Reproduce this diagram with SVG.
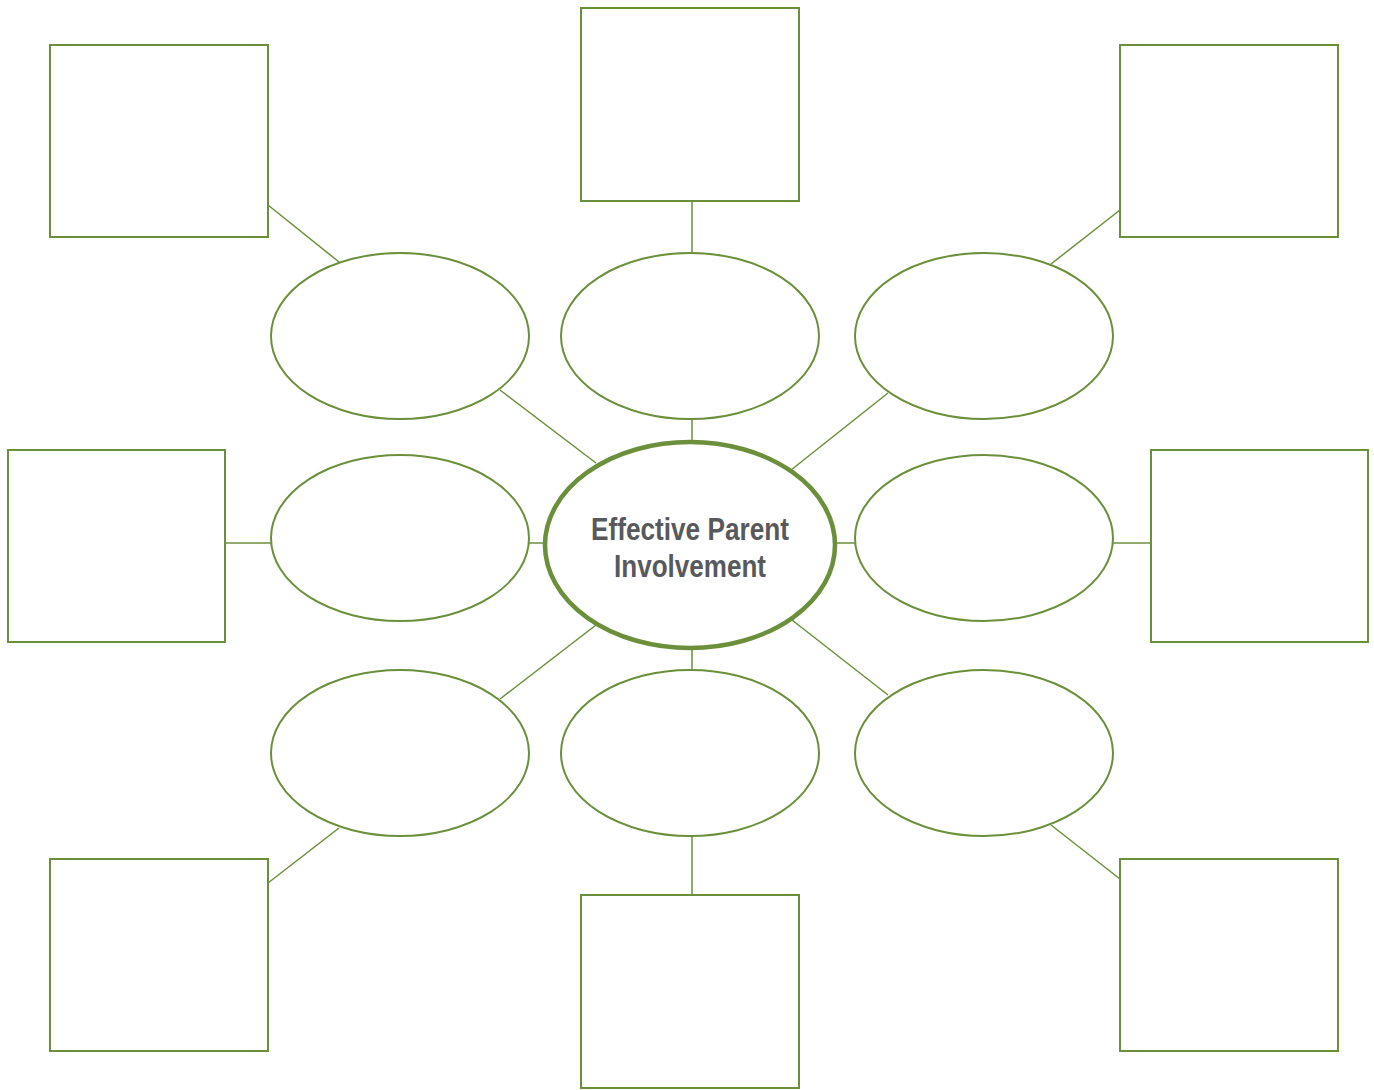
<svg xmlns="http://www.w3.org/2000/svg" width="1374" height="1090" viewBox="0 0 1374 1090">
<style>
.box{fill:#fff;stroke:#6b8f3b;stroke-width:2}
.oval{fill:#fff;stroke:#6b8f3b;stroke-width:2}
.hub{fill:#fff;stroke:#6b8f3b;stroke-width:4.5}
.ln{stroke:#6b8f3b;stroke-width:1.5;fill:none}
.t{font-family:"Liberation Sans",Arial,sans-serif;font-size:31px;font-weight:bold;fill:#58595b;text-anchor:middle}
</style>
<rect width="1374" height="1090" fill="#fff"/>
<g id="connectors">
<line class="ln" x1="268" y1="205" x2="339" y2="262"/>
<line class="ln" x1="692" y1="201" x2="692" y2="253"/>
<line class="ln" x1="1120" y1="210" x2="1051" y2="264"/>
<line class="ln" x1="225" y1="543" x2="271" y2="543"/>
<line class="ln" x1="1113" y1="543" x2="1151" y2="543"/>
<line class="ln" x1="339" y1="828" x2="268" y2="883"/>
<line class="ln" x1="692" y1="836" x2="692" y2="895"/>
<line class="ln" x1="1051" y1="825" x2="1120" y2="879"/>
<line class="ln" x1="500" y1="390" x2="596" y2="463"/>
<line class="ln" x1="692" y1="419" x2="692" y2="442"/>
<line class="ln" x1="888" y1="393" x2="791" y2="470"/>
<line class="ln" x1="529" y1="543" x2="545" y2="543"/>
<line class="ln" x1="835" y1="543" x2="855" y2="543"/>
<line class="ln" x1="596" y1="625" x2="500" y2="699"/>
<line class="ln" x1="692" y1="648" x2="692" y2="670"/>
<line class="ln" x1="792" y1="620" x2="888" y2="695"/>
</g>
<g id="box-tl"><rect class="box" x="50" y="45" width="218" height="192"/></g>
<g id="box-tc"><rect class="box" x="581" y="8" width="218" height="193"/></g>
<g id="box-tr"><rect class="box" x="1120" y="45" width="218" height="192"/></g>
<g id="box-ml"><rect class="box" x="8" y="450" width="217" height="192"/></g>
<g id="box-mr"><rect class="box" x="1151" y="450" width="217" height="192"/></g>
<g id="box-bl"><rect class="box" x="50" y="859" width="218" height="192"/></g>
<g id="box-bc"><rect class="box" x="581" y="895" width="218" height="193"/></g>
<g id="box-br"><rect class="box" x="1120" y="859" width="218" height="192"/></g>
<g id="oval-tl"><ellipse class="oval" cx="400" cy="336" rx="129" ry="83"/></g>
<g id="oval-tc"><ellipse class="oval" cx="690" cy="336" rx="129" ry="83"/></g>
<g id="oval-tr"><ellipse class="oval" cx="984" cy="336" rx="129" ry="83"/></g>
<g id="oval-ml"><ellipse class="oval" cx="400" cy="538" rx="129" ry="83"/></g>
<g id="oval-mr"><ellipse class="oval" cx="984" cy="538" rx="129" ry="83"/></g>
<g id="oval-bl"><ellipse class="oval" cx="400" cy="753" rx="129" ry="83"/></g>
<g id="oval-bc"><ellipse class="oval" cx="690" cy="753" rx="129" ry="83"/></g>
<g id="oval-br"><ellipse class="oval" cx="984" cy="753" rx="129" ry="83"/></g>
<g id="hub">
<ellipse class="hub" cx="690" cy="545" rx="145" ry="103"/>
<text class="t" x="690" y="540" textLength="198" lengthAdjust="spacingAndGlyphs">Effective Parent</text>
<text class="t" x="690" y="577" textLength="152" lengthAdjust="spacingAndGlyphs">Involvement</text>
</g>
</svg>
